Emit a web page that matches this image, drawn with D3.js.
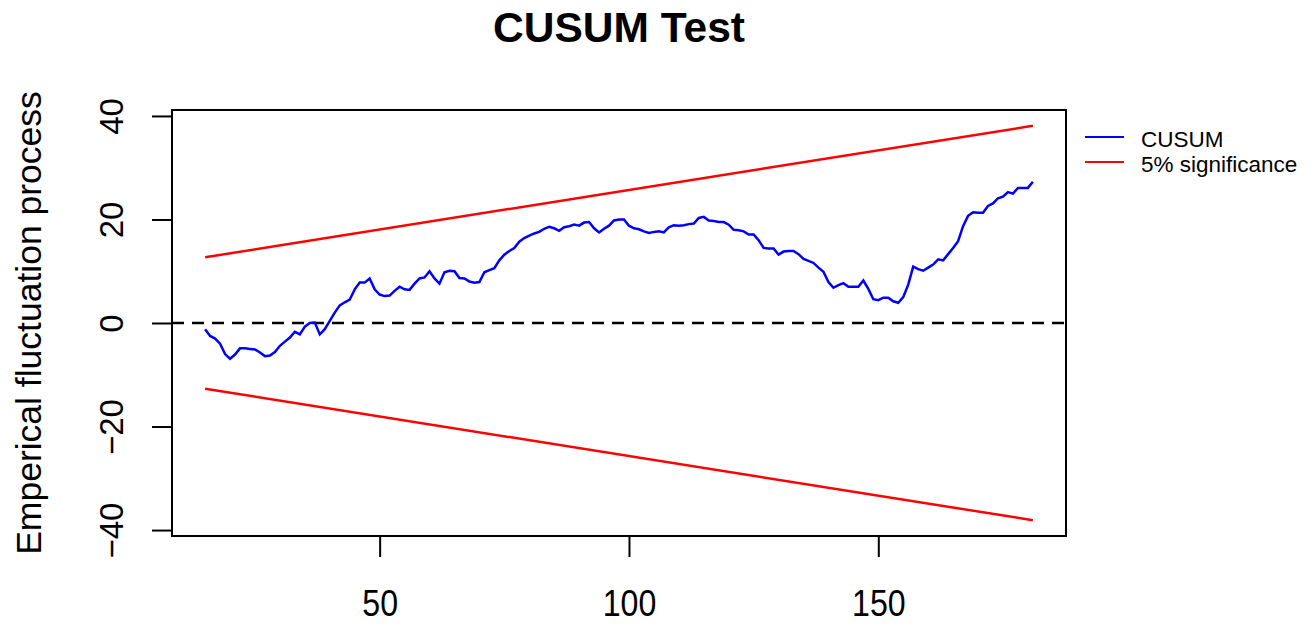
<!DOCTYPE html>
<html>
<head>
<meta charset="utf-8">
<script src="https://cdn.jsdelivr.net/npm/d3@7/dist/d3.min.js"></script>
<style>
  html, body { margin: 0; padding: 0; background: #fff; }
  svg { display: block; }
  text { font-family: "Liberation Sans", Arial, sans-serif; }
</style>
</head>
<body>
<svg id="chart" width="1312" height="626"></svg>
<script>
// ---- data ----
const timeStart = 15;
const cusumValues = [
  -1.2, -2.5, -3.0, -4.0, -6.0, -6.9, -6.1, -4.9, -4.9, -5.0,
  -5.1, -5.7, -6.4, -6.3, -5.6, -4.4, -3.6, -2.8, -1.7, -2.2,
  -0.7, 0.0, 0.1, -2.2, -1.2, 0.4, 2.0, 3.4, 4.0, 4.5,
  6.5, 7.8, 7.8, 8.6, 6.5, 5.5, 5.2, 5.3, 6.2, 7.0,
  6.5, 6.4, 7.6, 8.6, 8.8, 10.0, 8.6, 7.6, 9.8, 10.1,
  10.0, 8.7, 8.6, 8.0, 7.8, 7.9, 9.8, 10.2, 10.6, 12.1,
  13.2, 13.9, 14.5, 15.7, 16.4, 16.9, 17.3, 17.6, 18.2, 18.6,
  18.3, 17.8, 18.5, 18.7, 19.0, 18.8, 19.4, 19.5, 18.3, 17.5,
  18.2, 18.8, 19.8, 20.0, 20.0, 18.8, 18.3, 18.1, 17.7, 17.4,
  17.6, 17.7, 17.5, 18.5, 18.9, 18.8, 18.9, 19.1, 19.2, 20.3,
  20.5, 19.8, 19.7, 19.5, 19.5, 19.0, 18.0, 17.9, 17.7, 17.1,
  17.1, 16.0, 14.5, 14.4, 14.4, 13.2, 13.8, 13.9, 13.9, 13.3,
  12.4, 12.0, 11.6, 10.7, 9.9, 7.9, 6.8, 7.3, 7.7, 7.0,
  7.0, 7.0, 8.2, 6.6, 4.6, 4.4, 4.9, 4.9, 4.2, 3.9,
  5.0, 7.4, 10.9, 10.4, 10.1, 10.7, 11.3, 12.3, 12.1, 13.3,
  14.5, 15.8, 18.7, 20.7, 21.4, 21.3, 21.3, 22.6, 23.1, 24.1,
  24.4, 25.3, 25.0, 26.1, 26.1, 26.1, 27.3
];
const boundaryTimes = [15, 181];
const upperBoundary = [12.7, 38.1];
const lowerBoundary = [-12.7, -38.1];
const xTicks = [50, 100, 150];
const yTicks = [-40, -20, 0, 20, 40];
const legendLabels = ["CUSUM", "5% significance"];
const legendColors = ["#0000ff", "#ff0000"];
const titleText = "CUSUM Test";
const yTitle = "Emperical fluctuation process";

// ---- layout ----
const svg = d3.select("#chart");
const plot = { left: 172, right: 1066, top: 110, bottom: 536 };

const cusum = cusumValues.map((v, i) => ({ t: timeStart + i, v }));
const tExt = d3.extent(cusum, d => d.t);
const tPad = (tExt[1] - tExt[0]) * 0.04;
const x = d3.scaleLinear().domain([tExt[0] - tPad, tExt[1] + tPad]).range([plot.left, plot.right]);
const vMin = d3.min(lowerBoundary.concat(cusumValues)), vMax = d3.max(upperBoundary.concat(cusumValues));
const vPad = (vMax - vMin) * 0.04;
const y = d3.scaleLinear().domain([vMin - vPad, vMax + vPad]).range([plot.bottom, plot.top]);

// title
svg.append("text").attr("x", (plot.left + plot.right) / 2).attr("y", 42)
  .attr("text-anchor", "middle").attr("font-size", 42.5).attr("font-weight", "bold")
  .attr("fill", "#000").text(titleText);

// y title
svg.append("text").attr("transform", `translate(41,${(plot.top + plot.bottom) / 2}) rotate(-90)`)
  .attr("text-anchor", "middle").attr("font-size", 35.5).attr("fill", "#000").text(yTitle);

// zero line
svg.append("line").attr("x1", plot.left).attr("x2", plot.right)
  .attr("y1", y(0)).attr("y2", y(0))
  .attr("stroke", "#000").attr("stroke-width", 2.5).attr("stroke-dasharray", "12,8");

// boundaries
const line = d3.line().x(d => x(d[0])).y(d => y(d[1]));
[upperBoundary, lowerBoundary].forEach(b => {
  svg.append("path").attr("d", line(boundaryTimes.map((t, i) => [t, b[i]])))
    .attr("fill", "none").attr("stroke", legendColors[1]).attr("stroke-width", 2.5);
});

// cusum
svg.append("path").attr("d", line(cusum.map(d => [d.t, d.v])))
  .attr("fill", "none").attr("stroke", legendColors[0]).attr("stroke-width", 2.5)
  .attr("stroke-linejoin", "miter");

// axes
const xAxis = d3.axisBottom(x).tickValues(xTicks).tickSize(21).tickPadding(0).tickFormat(d3.format("d"));
const gx = svg.append("g").attr("transform", `translate(0,${plot.bottom})`).call(xAxis);
gx.select(".domain").remove();
gx.selectAll(".tick line").attr("stroke", "#000").attr("stroke-width", 2);
gx.selectAll(".tick text").attr("font-size", 36.5).attr("fill", "#000")
  .attr("font-family", "'Liberation Sans', Arial, sans-serif")
  .attr("dy", null).attr("y", 80).attr("transform", "scale(0.88,1)");

const yAxis = d3.axisLeft(y).tickValues(yTicks).tickSize(20).tickFormat(d3.format("d"));
const gy = svg.append("g").attr("transform", `translate(${plot.left},0)`).call(yAxis);
gy.select(".domain").remove();
gy.selectAll(".tick line").attr("stroke", "#000").attr("stroke-width", 2);
gy.selectAll(".tick text").attr("font-size", 33).attr("fill", "#000")
  .attr("font-family", "'Liberation Sans', Arial, sans-serif")
  .attr("x", null).attr("dy", null)
  .attr("transform", "translate(-49,0) rotate(-90)")
  .attr("text-anchor", "middle").attr("y", 0);

// box
svg.append("rect").attr("x", plot.left).attr("y", plot.top)
  .attr("width", plot.right - plot.left).attr("height", plot.bottom - plot.top)
  .attr("fill", "none").attr("stroke", "#000").attr("stroke-width", 2);

// legend
const lg = svg.append("g");
legendLabels.forEach((lab, i) => {
  const ly = 137 + i * 25;
  lg.append("line").attr("x1", 1085).attr("x2", 1124).attr("y1", ly).attr("y2", ly)
    .attr("stroke", legendColors[i]).attr("stroke-width", 2);
  lg.append("text").attr("x", 1141).attr("y", ly + 10).attr("font-size", 22.5)
    .attr("fill", "#000").text(lab);
});
</script>
</body>
</html>
